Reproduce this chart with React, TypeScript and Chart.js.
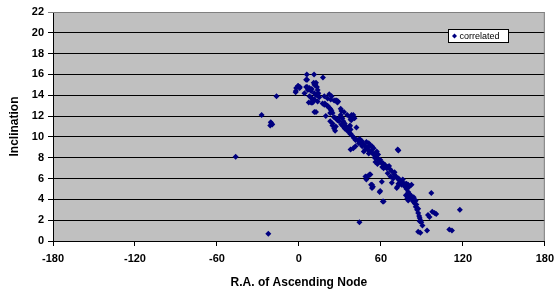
import React, { useEffect, useRef } from 'react';
import { Chart, registerables } from 'chart.js';

Chart.register(...registerables);

const seriesName = 'correlated';
const xAxisTitle = 'R.A. of Ascending Node';
const yAxisTitle = 'Inclination';

// R.A. of ascending node (deg)
const raAscendingNode = [
  -46.3, -22.4, -27.3, -20.0, -19.5, -20.6, -21.0, -16.4,
  5.8, 11.1, 17.6, 6.0, 5.3, -0.5, 0.7, -2.2, -2.0, -0.7, 0.5, -2.4,
  5.3, 6.5, 6.0, 7.7, 9.4, 10.8, 11.3, 12.5, 12.0, 13.2, 13.7, 14.2,
  8.9, 11.3, 13.7, 4.1, 7.7, 8.9, 9.4, 12.5, 11.3, 7.2, 8.9, 9.4, 10.1, 13.7,
  11.3, 12.5, 14.9, 18.6, 21.0, 22.2, 23.9, 23.3, 25.8, 27.0, 27.7, 28.2, 28.7, 28.2,
  17.3, 18.6, 19.0, 20.5, 21.0, 22.2, 22.9, 23.3, 23.9, 22.9, 24.6, 19.7,
  25.8, 27.0, 28.2, 29.4, 22.9, 24.6, 24.6, 27.0, 25.8, 26.5,
  30.6, 31.1, 30.6, 31.8, 32.5, 31.1, 33.0, 33.5, 34.2, 32.5, 33.5, 34.5, 35.4, 35.4,
  36.7, 37.4, 37.8, 39.0, 40.3, 41.4, 41.4, 43.2, 43.9, 45.0, 46.3, 47.0, 48.6, 48.7,
  35.4, 37.8, 39.0, 38.5, 39.8, 40.7, 37.8, 38.3, 37.4, 37.1, 37.8, 42.1, 30.1,
  37.8, 39.8, 41.4, 49.4, 51.1, 52.3, 53.5, 54.7, 49.9, 51.1, 52.3, 47.5, 51.1,
  54.2, 54.7, 55.2, 56.6, 57.1, 58.3, 59.5, 59.5, 60.7, 61.4, 62.0, 63.1, 63.1, 64.3,
  64.8, 66.7, 68.0, 69.6, 71.1, 72.8, 75.2, 76.4, 77.6, 78.8, 80.0, 81.2, 82.4, 83.6,
  84.8, 86.0, 87.3, 72.3, 72.8, 51.1, 52.3, 49.9, 48.7, 49.4, 51.8, 53.5, 52.8, 54.2,
  53.5, 60.7, 59.1, 59.5, 62.0, 61.4, 71.6, 72.1, 68.0, 74.5, 72.8, 75.2, 77.6, 78.8,
  80.0, 80.7, 82.4, 78.3, 78.8, 79.3, 80.7, 80.0, 82.4, 83.6, 84.8, 85.5, 86.5, 87.3,
  88.0, 88.4, 88.9, 89.6, 90.4, 88.4, 96.9, 94.5, 95.6, 97.6, 99.3, 100.5, 87.3, 88.9,
  93.8, 110.1, 112.0, 117.8, 44.3,
  56.0, 58.0, 62.0, 65.0, 67.0, 70.0, 73.0, 74.0, 44.5, 46.0, 50.5, 53.0, 55.5, 57.5,
  61.0, 66.0, 69.0, 76.0, 79.0, 84.0, 85.5, 57.0,
];

// Inclination (deg)
const inclination = [
  8.1, 0.7, 12.1, 11.3, 11.2, 11.4, 11.1, 13.9,
  16.0, 16.0, 15.7, 15.5, 15.5, 14.9, 14.8, 14.4, 14.7, 14.9, 14.7, 14.3,
  14.8, 14.5, 14.8, 14.7, 14.6, 15.2, 15.0, 15.2, 15.0, 14.8, 14.5, 14.2,
  14.4, 14.2, 14.1, 14.2, 13.9, 13.8, 13.7, 14.0, 13.6, 13.3, 13.3, 13.3, 13.3, 13.4,
  12.4, 12.4, 13.8, 13.9, 13.7, 14.1, 13.9, 13.6, 13.5, 13.5, 13.5, 13.4, 13.4, 13.3,
  13.2, 13.1, 13.2, 13.0, 13.0, 12.8, 12.7, 12.6, 12.5, 12.3, 12.3, 12.0,
  11.9, 11.8, 11.6, 11.5, 11.5, 11.3, 11.1, 11.0, 10.8, 10.6,
  12.7, 12.5, 12.1, 11.8, 11.5, 11.2, 12.4, 11.3, 11.0, 11.0, 10.8, 11.0, 10.8, 10.6,
  10.6, 10.3, 10.3, 10.1, 9.9, 9.8, 9.7, 9.7, 9.4, 9.4, 9.1, 9.3, 8.8, 9.1,
  12.1, 11.9, 12.0, 12.1, 12.1, 11.8, 11.7, 11.6, 11.1, 11.0, 10.7, 10.9, 11.9,
  8.8, 8.9, 9.1, 9.5, 9.4, 9.2, 9.1, 8.9, 8.9, 8.7, 8.6, 8.6, 8.4,
  8.4, 8.3, 8.3, 8.1, 8.0, 7.8, 7.8, 7.6, 7.5, 7.5, 7.3, 7.3, 7.1, 7.0,
  7.1, 6.9, 6.7, 6.4, 6.2, 5.9, 5.7, 5.5, 5.2, 5.0, 4.7, 4.5, 4.3, 4.0,
  3.8, 3.5, 3.1, 8.8, 8.7, 6.3, 6.4, 6.2, 6.2, 5.9, 6.4, 5.4, 5.4, 5.2,
  5.1, 5.7, 4.7, 4.8, 3.8, 3.8, 5.1, 5.2, 5.6, 5.6, 5.5, 5.4, 5.5, 5.5,
  5.4, 5.2, 5.4, 4.4, 4.4, 4.1, 4.3, 3.9, 4.1, 3.8, 3.6, 3.3, 3.0, 2.7,
  2.4, 2.2, 2.0, 1.8, 1.5, 1.9, 4.6, 2.5, 2.3, 2.8, 2.7, 2.6, 0.9, 0.8,
  1.0, 1.1, 1.0, 3.0, 1.8,
  7.6, 8.3, 7.0, 6.5, 6.2, 6.6, 6.0, 5.5, 9.8, 9.6, 9.0, 8.7, 8.0, 7.4,
  7.1, 7.2, 6.0, 5.9, 5.2, 4.2, 3.9, 8.6,
];

const xTicks = [-180, -120, -60, 0, 60, 120, 180];
const yTicks = [0, 2, 4, 6, 8, 10, 12, 14, 16, 18, 20, 22];

const FONT = '"Liberation Sans", Arial, sans-serif';
const MARKER = '#000080';

const plotBackground = {
  id: 'plotBackground',
  beforeDraw(chart: any) {
    const { ctx, chartArea: a } = chart;
    ctx.save();
    ctx.fillStyle = '#C0C0C0';
    ctx.fillRect(a.left, a.top, a.right - a.left, a.bottom - a.top);
    ctx.restore();
  },
  beforeDatasetsDraw(chart: any) {
    const { ctx, chartArea: a } = chart;
    ctx.save();
    ctx.strokeStyle = '#808080';
    ctx.lineWidth = 1;
    ctx.beginPath();
    ctx.moveTo(a.left, a.top + 0.5);
    ctx.lineTo(a.right - 0.5, a.top + 0.5);
    ctx.lineTo(a.right - 0.5, a.bottom);
    ctx.stroke();
    ctx.restore();
  },
};

const boxLegend = {
  id: 'boxLegend',
  afterDraw(chart: any) {
    const { ctx } = chart;
    const label = chart.data.datasets[0].label;
    ctx.save();
    ctx.font = `9px ${FONT}`;
    const tw = ctx.measureText(label).width;
    const x = 448.5;
    const y = 29.5;
    const w = Math.round(tw + 20);
    const h = 13;
    ctx.fillStyle = '#FFFFFF';
    ctx.fillRect(x, y, w, h);
    ctx.strokeStyle = '#000000';
    ctx.lineWidth = 1;
    ctx.strokeRect(x, y, w, h);
    const mx = x + 6;
    const my = y + h / 2;
    ctx.fillStyle = MARKER;
    ctx.beginPath();
    ctx.moveTo(mx, my - 2.5);
    ctx.lineTo(mx + 2.5, my);
    ctx.lineTo(mx, my + 2.5);
    ctx.lineTo(mx - 2.5, my);
    ctx.closePath();
    ctx.fill();
    ctx.fillStyle = '#000000';
    ctx.textBaseline = 'middle';
    ctx.textAlign = 'left';
    ctx.fillText(label, x + 11, my + 0.5);
    ctx.restore();
  },
};

export default function App() {
  const ref = useRef<HTMLCanvasElement | null>(null);

  useEffect(() => {
    if (!ref.current) return;
    const points = raAscendingNode.map((ra, i) => ({ x: ra, y: inclination[i] }));
    const tickFont = { family: FONT, size: 11, weight: 'bold' as const };
    const titleFont = { family: FONT, size: 12, weight: 'bold' as const };
    const chart = new Chart(ref.current, {
      type: 'scatter',
      data: {
        datasets: [
          {
            label: seriesName,
            data: points,
            pointStyle: 'rectRot',
            pointRadius: 3,
            pointBackgroundColor: MARKER,
            pointBorderColor: MARKER,
            pointBorderWidth: 0,
          },
        ],
      },
      options: {
        responsive: false,
        animation: false,
        layout: { padding: { left: 0, right: 11, top: 12, bottom: 0 } },
        plugins: { legend: { display: false }, tooltip: { enabled: false } },
        scales: {
          x: {
            type: 'linear',
            min: xTicks[0],
            max: xTicks[xTicks.length - 1],
            afterBuildTicks: (s: any) => { s.ticks = xTicks.map((v) => ({ value: v })); },
            ticks: { font: tickFont, color: '#000', padding: 6, maxRotation: 0, autoSkip: false },
            grid: { drawOnChartArea: false, drawTicks: true, tickLength: 5, color: '#000' },
            border: { color: '#000', width: 1 },
            title: { display: true, text: xAxisTitle, font: titleFont, color: '#000', padding: { top: 4, bottom: 2 } },
            afterFit: (s: any) => { s.height = 51; },
          },
          y: {
            min: yTicks[0],
            max: yTicks[yTicks.length - 1],
            afterBuildTicks: (s: any) => { s.ticks = yTicks.map((v) => ({ value: v })); },
            ticks: { font: tickFont, color: '#000', padding: 4, autoSkip: false },
            grid: {
              drawTicks: true,
              tickLength: 5,
              color: (c: any) => (c.tick && c.tick.value === 22 ? '#808080' : '#000'),
            },
            border: { color: '#000', width: 1 },
            title: { display: true, text: yAxisTitle, font: titleFont, color: '#000', padding: { top: 7, bottom: 4 } },
            afterFit: (s: any) => { s.width = 53; },
          },
        },
      },
      plugins: [plotBackground, boxLegend],
    });
    return () => chart.destroy();
  }, []);

  return (
    <div style={{ position: 'absolute', left: 0, top: 0, width: 560, height: 292, background: '#fff' }}>
      <canvas ref={ref} width={560} height={292} style={{ display: 'block', width: 560, height: 292 }} />
    </div>
  );
}
